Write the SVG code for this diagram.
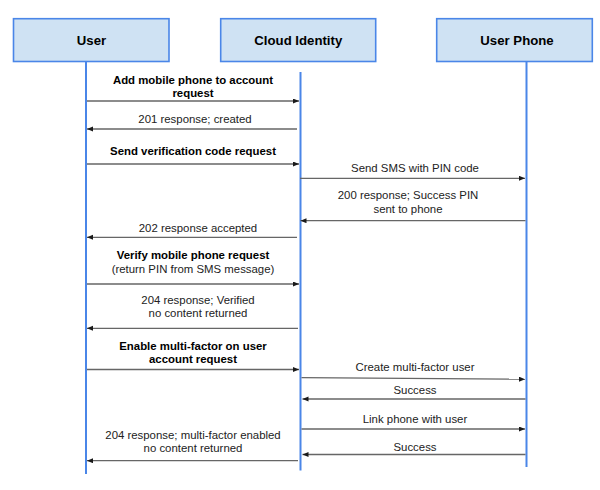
<svg xmlns="http://www.w3.org/2000/svg" width="600" height="490" viewBox="0 0 600 490">
<defs>
<marker id="ah" markerUnits="userSpaceOnUse" markerWidth="7" markerHeight="6" refX="6" refY="2.5" orient="auto">
<path d="M0,0 L6,2.5 L0,5 z" fill="#1a1a1a"/>
</marker>
<style>
.box{fill:#cfe2f3;stroke:#4a86e8;stroke-width:1.6}
.life{stroke:#4a86e8;stroke-width:2;fill:none}
.hdr{font-family:"Liberation Sans",Arial,sans-serif;font-size:13.2px;font-weight:bold;fill:#000;text-anchor:middle}
.msg{stroke:#666;stroke-width:1.3;fill:none;marker-end:url(#ah)}
.lb{font-family:"Liberation Sans",Arial,sans-serif;font-size:11.4px;fill:#222;text-anchor:middle}
.lbb{font-family:"Liberation Sans",Arial,sans-serif;font-size:11.4px;font-weight:bold;fill:#000;text-anchor:middle}
</style>
</defs>
<rect width="600" height="490" fill="#fff"/>
<g id="node-user">
<rect class="box" x="13.5" y="18.7" width="155.5" height="42.8"/>
<text class="hdr" x="91.5" y="45">User</text>
<line class="life" x1="86" y1="61.5" x2="86" y2="474"/>
</g>
<g id="node-cloud">
<rect class="box" x="220.7" y="18.7" width="155" height="42.8"/>
<text class="hdr" x="298.3" y="45">Cloud Identity</text>
<line class="life" x1="300.5" y1="72" x2="300.5" y2="470.5"/>
</g>
<g id="node-phone">
<rect class="box" x="436.7" y="18.7" width="155.6" height="42.8"/>
<text class="hdr" x="517" y="45">User Phone</text>
<line class="life" x1="526.5" y1="61.5" x2="526.5" y2="467"/>
</g>
<g id="connectors">
<line class="msg" x1="87" y1="101" x2="299" y2="101"/>
<line class="msg" x1="297" y1="129" x2="87" y2="129"/>
<line class="msg" x1="87" y1="164" x2="299" y2="164"/>
<line class="msg" x1="300" y1="178.3" x2="525" y2="178.3"/>
<line class="msg" x1="525.5" y1="220.7" x2="300.5" y2="220.7"/>
<line class="msg" x1="297" y1="237.3" x2="87" y2="237.3"/>
<line class="msg" x1="87" y1="284" x2="299" y2="284"/>
<line class="msg" x1="298" y1="328.3" x2="87" y2="328.3"/>
<line class="msg" x1="87" y1="369.5" x2="299" y2="369.5"/>
<line class="msg" x1="301.5" y1="377.7" x2="525" y2="379.2"/>
<line class="msg" x1="525.5" y1="399" x2="302.5" y2="399"/>
<line class="msg" x1="301.5" y1="429" x2="525" y2="429"/>
<line class="msg" x1="525.5" y1="454.5" x2="302.5" y2="454.5"/>
<line class="msg" x1="298" y1="460.7" x2="87" y2="460.7"/>
</g>
<g id="labels">
<text class="lbb" x="193" y="83.5">Add mobile phone to account</text>
<text class="lbb" x="193" y="96.7">request</text>
<text class="lb" x="195" y="123.3">201 response; created</text>
<text class="lbb" x="193" y="155">Send verification code request</text>
<text class="lb" x="415" y="171.7">Send SMS with PIN code</text>
<text class="lb" x="408" y="199.3">200 response; Success PIN</text>
<text class="lb" x="408" y="212.7">sent to phone</text>
<text class="lb" x="198" y="232">202 response accepted</text>
<text class="lbb" x="193" y="259.3">Verify mobile phone request</text>
<text class="lb" x="193" y="272.5">(return PIN from SMS message)</text>
<text class="lb" x="198" y="304">204 response; Verified</text>
<text class="lb" x="198" y="317">no content returned</text>
<text class="lbb" x="193" y="350">Enable multi-factor on user</text>
<text class="lbb" x="193" y="363.3">account request</text>
<text class="lb" x="415" y="371">Create multi-factor user</text>
<text class="lb" x="415" y="394">Success</text>
<text class="lb" x="415" y="422.7">Link phone with user</text>
<text class="lb" x="415" y="450.7">Success</text>
<text class="lb" x="193" y="439.3">204 response; multi-factor enabled</text>
<text class="lb" x="193" y="452">no content returned</text>
</g>
</svg>
